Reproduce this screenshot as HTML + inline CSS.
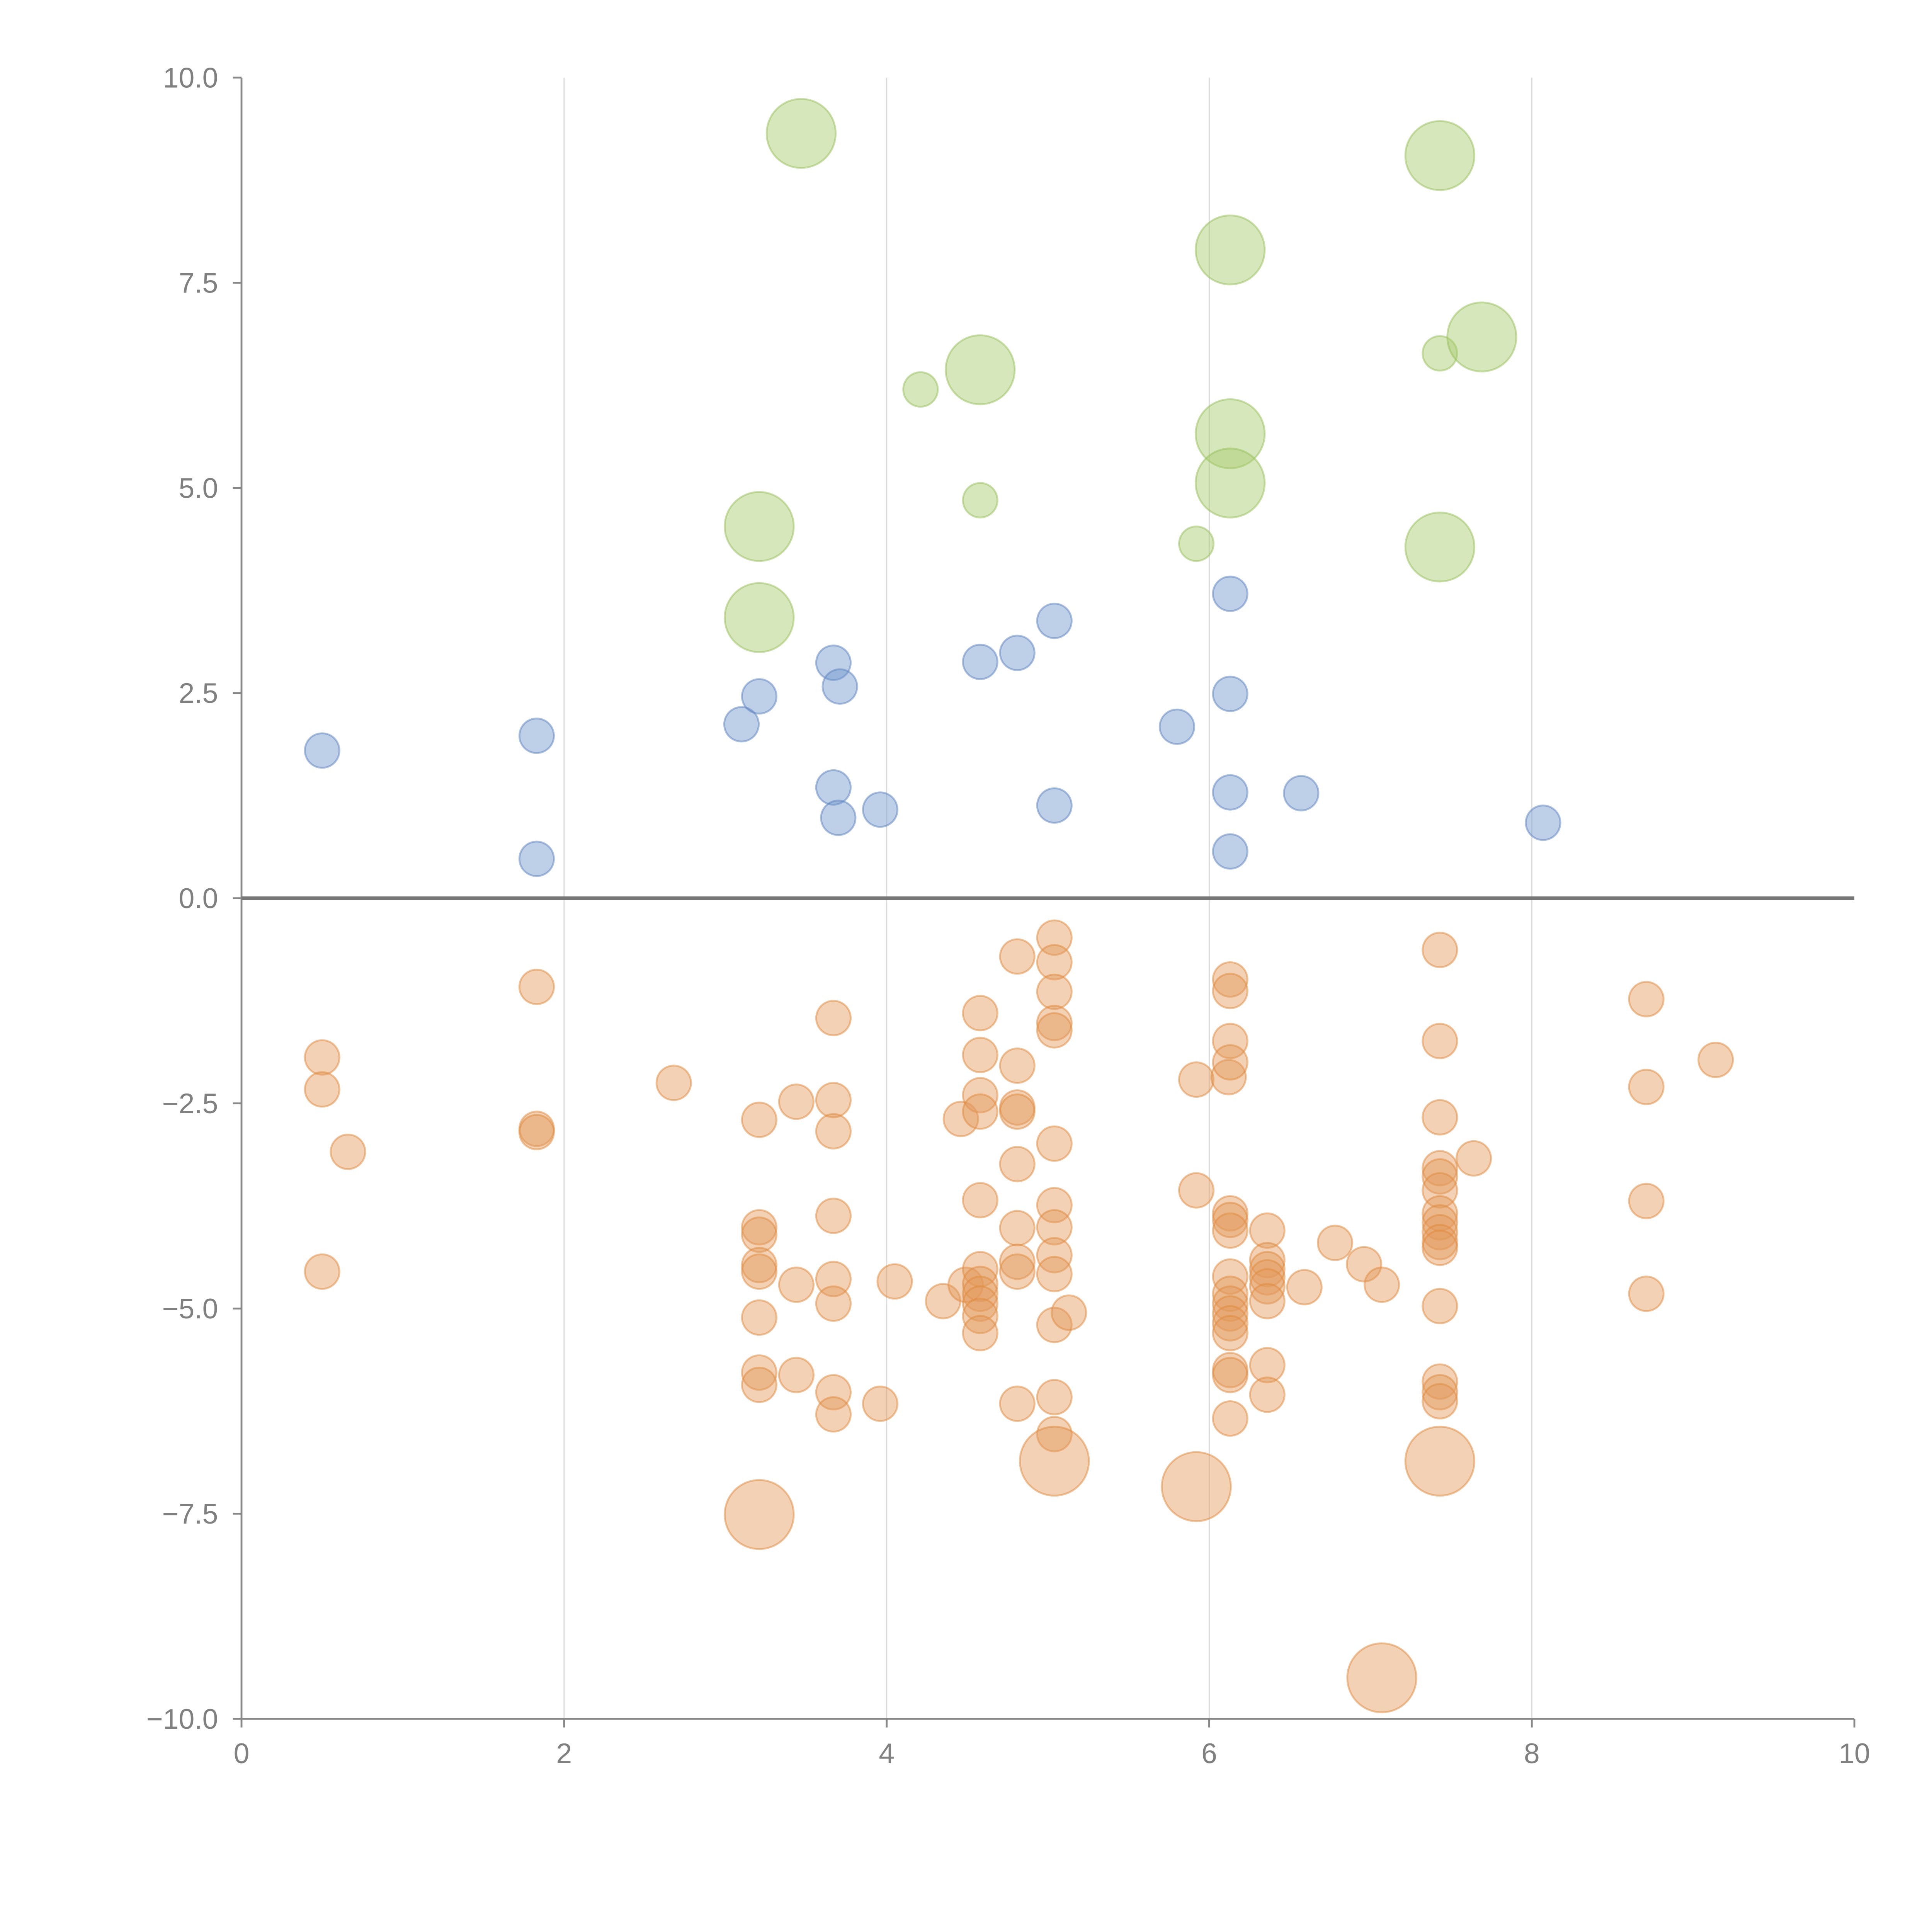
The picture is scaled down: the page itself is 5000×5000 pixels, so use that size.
<!DOCTYPE html>
<html><head><meta charset="utf-8"><style>
html,body{margin:0;padding:0;background:#fff;}
svg{display:block;}
text{font-family:"Liberation Sans",sans-serif;fill:#808080;font-size:23px;}
</style></head><body>
<svg id="chart" width="5000" height="5000" viewBox="0 0 1568 1568" xmlns="http://www.w3.org/2000/svg">
<g id="grid"></g>
<g id="axes"></g>
<g id="marks"></g>
</svg>
<script>
const xTicks = [0, 2, 4, 6, 8, 10];
const yTicks = [10, 7.5, 5, 2.5, 0, -2.5, -5, -7.5, -10];
const yTickLabels = ["10.0","7.5","5.0","2.5","0.0","\u22122.5","\u22125.0","\u22127.5","\u221210.0"];

const blueX = [0.50,1.83,1.83,3.10,3.21,3.67,3.71,3.67,3.70,3.96,4.58,4.81,5.04,5.04,5.80,6.13,6.13,6.13,6.13,6.57,8.07];
const blueY = [1.80,1.98,0.48,2.12,2.46,2.87,2.58,1.35,0.98,1.08,2.88,2.99,3.38,1.13,2.09,3.71,2.49,1.29,0.57,1.28,0.92];

const greenX = [4.21,4.58,5.92,7.43,3.47,3.21,3.21,4.58,6.13,6.13,6.13,7.43,7.69,7.43];
const greenY = [6.20,4.85,4.32,6.64,9.32,4.53,3.42,6.44,7.90,5.66,5.06,9.05,6.84,4.28];
const greenSize = [1,1,1,1,2,2,2,2,2,2,2,2,2,2];

const orangeBigX = [3.21,5.04,5.92,7.43,7.07];
const orangeBigY = [-7.51,-6.86,-7.17,-6.86,-9.50];

const orangeX = [
0.50,0.50,0.50, 0.66, 1.83,1.83,1.83, 2.68,
3.21,3.21,3.21,3.21,3.21,3.21,3.21,3.21,
3.44,3.44,3.44,
3.67,3.67,3.67,3.67,3.67,3.67,3.67,3.67,
3.96,4.05,4.35,4.46,4.49,
4.58,4.58,4.58,4.58,4.58,4.58,4.58,4.58,4.58,4.58,4.58,
4.81,4.81,4.81,4.81,4.81,4.81,4.81,4.81,4.81,
5.04,5.04,5.04,5.04,5.04,5.04,5.04,5.04,5.04,5.04,5.04,5.04,5.04,
5.13,5.92,5.92,6.12,
6.13,6.13,6.13,6.13,6.13,6.13,6.13,6.13,6.13,6.13,6.13,6.13,6.13,6.13,6.13,6.13,
6.36,6.36,6.36,6.36,6.36,6.36,6.36,6.36,
6.59,6.78,6.96,7.07,
7.43,7.43,7.43,7.43,7.43,7.43,7.43,7.43,7.43,7.43,7.43,7.43,7.43,7.43,7.43,
7.64,8.71,8.71,8.71,8.71,9.14];
const orangeY = [
-1.94,-2.33,-4.55, -3.09, -1.08,-2.81,-2.85, -2.25,
-2.70,-4.01,-4.10,-4.47,-4.55,-5.11,-5.78,-5.93,
-2.48,-4.71,-5.81,
-1.46,-2.46,-2.84,-3.87,-4.64,-4.94,-6.02,-6.29,
-6.16,-4.67,-4.91,-2.69,-4.71,
-1.40,-1.91,-2.40,-2.60,-3.68,-4.52,-4.70,-4.82,-4.94,-5.09,-5.30,
-0.71,-2.04,-2.55,-2.60,-3.24,-4.02,-4.43,-4.55,-6.16,
-0.48,-0.78,-1.14,-1.52,-1.61,-2.99,-3.74,-4.01,-4.35,-4.58,-5.20,-6.08,-6.53,
-5.05,-2.21,-3.56,-2.18,
-0.99,-1.13,-1.74,-2.00,-3.84,-3.92,-4.05,-4.61,-4.82,-4.94,-5.06,-5.18,-5.30,-5.75,-5.81,-6.34,
-4.05,-4.41,-4.52,-4.62,-4.73,-4.91,-5.69,-6.05,
-4.74,-4.20,-4.46,-4.71,
-0.63,-1.74,-2.67,-3.29,-3.39,-3.56,-3.84,-3.95,-4.07,-4.19,-4.26,-4.97,-5.89,-6.02,-6.13,
-3.17,-1.23,-2.30,-3.69,-4.82,-1.97];

const NS = "http://www.w3.org/2000/svg";
const X0 = 196, X1 = 1505, Y0 = 1395, Y1 = 63;
function sx(v){ return X0 + (v - 0) / 10 * (X1 - X0); }
function sy(v){ return Y0 - (v + 10) / 20 * (Y0 - Y1); }
function mk(tag, attrs, parent){
  const e = document.createElementNS(NS, tag);
  for (const k in attrs) e.setAttribute(k, attrs[k]);
  parent.appendChild(e);
  return e;
}
const grid = document.getElementById('grid');
const axes = document.getElementById('axes');
const marks = document.getElementById('marks');

xTicks.forEach(t => {
  if (t > 0 && t < 10) {
    const g = mk('line', {x1: sx(t), x2: sx(t), y1: Y1, y2: Y0, stroke: '#dcdcdc', 'stroke-width': 1}, grid);
    
    
  }
  const tk = mk('line', {x1: sx(t), x2: sx(t), y1: Y0, y2: Y0 + 7, stroke: '#888', 'stroke-width': 1.5}, axes);
  
  
  const lb = mk('text', {x: sx(t), y: Y0 + 36, 'text-anchor': 'middle'}, axes);
  lb.textContent = String(t);
  
  
});
yTicks.forEach((t, i) => {
  const tk = mk('line', {x1: X0 - 7, x2: X0, y1: sy(t), y2: sy(t), stroke: '#888', 'stroke-width': 1.5}, axes);
  
  
  const lb = mk('text', {x: X0 - 19, y: sy(t) + 8, 'text-anchor': 'end'}, axes);
  lb.textContent = yTickLabels[i];
  
  
});
const ya = mk('line', {x1: X0, x2: X0, y1: Y1, y2: Y0, stroke: '#888', 'stroke-width': 1.5}, axes);


const xa = mk('line', {x1: X0, x2: X1, y1: Y0, y2: Y0, stroke: '#888', 'stroke-width': 1.5}, axes);



function dot(x, y, r, fill, stroke, name){
  const c = mk('circle', {cx: sx(x), cy: sy(y), r: r, fill: fill, 'fill-opacity': 0.45, stroke: stroke, 'stroke-opacity': 0.5, 'stroke-width': 1.5}, marks);
  
  
}
orangeX.forEach((x, i) => dot(x, orangeY[i], 14, '#e39a5a', '#e0893c', 'orange-point'));
orangeBigX.forEach((x, i) => dot(x, orangeBigY[i], 28, '#e39a5a', '#e0893c', 'orange-large-point'));
blueX.forEach((x, i) => dot(x, blueY[i], 14, '#6f94cc', '#5b82bd', 'blue-point'));
greenX.forEach((x, i) => dot(x, greenY[i], greenSize[i] === 2 ? 28 : 14, '#a6c96a', '#97bf5a', 'green-point'));

const zl = mk('line', {x1: X0, x2: X1, y1: sy(0), y2: sy(0), stroke: '#777', 'stroke-width': 3}, axes);


</script>
</body></html>
